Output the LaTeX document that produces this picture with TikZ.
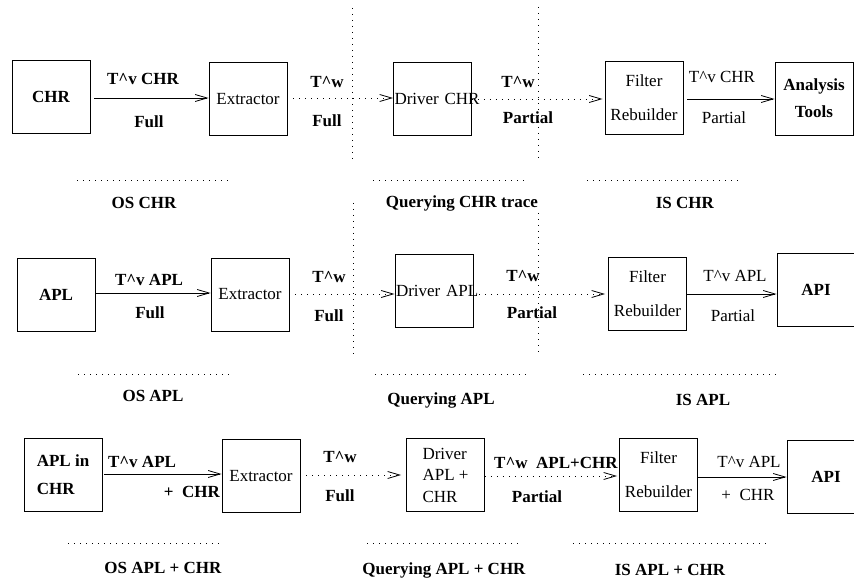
\documentclass[tikz,border=0pt]{standalone}
\usepackage{fontspec}
\setmainfont{Liberation Serif}
\usetikzlibrary{arrows.meta, positioning}
\newcommand{\up}{\textasciicircum}
\tikzset{
  box/.style={draw, line width=0.9pt, minimum width=78pt, minimum height=73pt, inner sep=1pt},
  drvbox/.style={box, text width=76pt, align=left},
  lbl/.style={inner sep=0pt},
  solidarr/.style={-{Straight Barb[length=12pt,width=7pt]}, line width=0.8pt},
  dotarr/.style={solidarr, dash pattern=on 1pt off 5pt},
  sepline/.style={line width=0.8pt, dash pattern=on 1pt off 5pt}
}

\begin{document}
\begin{tikzpicture}[x=1pt, y=-1pt, font=\fontsize{17}{20}\selectfont]
            \useasboundingbox (0,0) rectangle (854,580);

            \node[box] (chr) at (51,97) {\textbf{CHR}};
            \node[box] (ext1) at (248,99) {Extractor};
            \node[drvbox] (drv1) at (432.5,99) {\mbox{Driver CHR}};
            \node[box, align=center] (fil1) at (644,98) {Filter\\[14pt]Rebuilder};
            \node[box, align=center] (tools) at (814,98.5) {\textbf{Analysis}\\[7pt]\textbf{Tools}};

            \draw[solidarr, shorten <=4pt] (chr.east |- 0,98) -- (ext1.west |- 0,98);
            \draw[dotarr] (ext1.east |- 0,98) -- (drv1.west |- 0,98);
            \draw[dotarr] (drv1.east |- 0,99) -- ([xshift=-2pt]fil1.west |- 0,99);
            \draw[solidarr, shorten <=4pt] (fil1.east |- 0,99) -- (tools.west |- 0,99);

            \node[lbl] (l1a) at (143,79) {\textbf{T\up v CHR}};
            \node[lbl] (l1b) at (149,122) {\textbf{Full}};
            \node[lbl] (l1c) at (327,82) {\textbf{T\up w}};
            \node[lbl] (l1d) at (327,121) {\textbf{Full}};
            \node[lbl] (l1e) at (518,82) {\textbf{T\up w}};
            \node[lbl] (l1f) at (528,118) {\textbf{Partial}};
            \node[lbl] (l1g) at (722,77) {T\up v CHR};
            \node[lbl] (l1h) at (724,118) {Partial};

            \draw[sepline] (77,180) -- (230,180);
            \draw[sepline] (373,180) -- (527,180);
            \draw[sepline] (587,180) -- (738,180);
            \node[lbl] (os1) at (144,203) {\textbf{OS CHR}};
            \node[lbl] (qu1) at (462,203) {\textbf{Querying CHR trace}};
            \node[lbl] (is1) at (685,203) {\textbf{IS CHR}};

            \draw[sepline] (352,8) -- (352,162);
            \draw[sepline] (353,203) -- (353,357);
            \draw[sepline] (538,7) -- (538,160);
            \draw[sepline] (538,213) -- (538,355);

            \node[box] (apl) at (56,294.5) {\textbf{APL}};
            \node[box] (ext2) at (250,294.5) {Extractor};
            \node[drvbox] (drv2) at (434,291) {\mbox{Driver APL}};
            \node[box, align=center] (fil2) at (647.5,293.5) {Filter\\[14pt]Rebuilder};
            \node[box] (api2) at (816,289.5) {\textbf{API}};

            \draw[solidarr, shorten <=1pt] (apl.east |- 0,293) -- (ext2.west |- 0,293);
            \draw[dotarr] (ext2.east |- 0,294) -- (drv2.west |- 0,294);
            \draw[dotarr] (drv2.east |- 0,294) -- ([xshift=-3pt]fil2.west |- 0,294);
            \draw[solidarr] (fil2.east |- 0,294) -- (api2.west |- 0,294);

            \node[lbl] (l2a) at (149,280) {\textbf{T\up v APL}};
            \node[lbl] (l2b) at (150,313) {\textbf{Full}};
            \node[lbl] (l2c) at (329,277) {\textbf{T\up w}};
            \node[lbl] (l2d) at (329,316) {\textbf{Full}};
            \node[lbl] (l2e) at (523,276) {\textbf{T\up w}};
            \node[lbl] (l2f) at (532,313) {\textbf{Partial}};
            \node[lbl] (l2g) at (735,276) {T\up v APL};
            \node[lbl] (l2h) at (733,316) {Partial};

            \draw[sepline] (78,374) -- (232,374);
            \draw[sepline] (375,374) -- (528,374);
            \draw[sepline] (583,374) -- (778,374);
            \node[lbl] (os2) at (153,396) {\textbf{OS APL}};
            \node[lbl] (qu2) at (441,400) {\textbf{Querying APL}};
            \node[lbl] (is2) at (703,400) {\textbf{IS APL}};

            \node[box, align=left] (aplchr) at (63,475) {\textbf{APL in}\\[8pt]\textbf{CHR}};
            \node[box] (ext3) at (261,476) {Extractor};
            \node[box, align=left] (drv3) at (445.5,475) {Driver\\[1pt]APL +\\[2pt]CHR};
            \node[box, align=center] (fil3) at (658.5,475) {Filter\\[14pt]Rebuilder};
            \node[box] (api3) at (826,476.5) {\textbf{API}};

            \draw[solidarr, shorten <=2pt] (aplchr.east |- 0,474) -- (ext3.west |- 0,474);
            \draw[dotarr] (ext3.east |- 0,475) -- ([xshift=-5pt]drv3.west |- 0,475);
            \draw[dotarr] (drv3.east |- 0,476) -- ([xshift=-2pt]fil3.west |- 0,476);
            \draw[solidarr] (fil3.east |- 0,477) -- (api3.west |- 0,477);

            \node[lbl] (l3a) at (142,462) {\textbf{T\up v APL}};
            \node[lbl] (l3b) at (192,492) {\textbf{+\ \ CHR}};
            \node[lbl] (l3c) at (340,457) {\textbf{T\up w}};
            \node[lbl] (l3d) at (340,496) {\textbf{Full}};
            \node[lbl] (l3e) at (556,463) {\textbf{T\up w\ \ APL+CHR}};
            \node[lbl] (l3f) at (537,497) {\textbf{Partial}};
            \node[lbl] (l3g) at (749,462) {T\up v APL};
            \node[lbl] (l3h) at (748,495) {+\ \ CHR};

            \draw[sepline] (68,543) -- (223,543);
            \draw[sepline] (367,543) -- (520,543);
            \draw[sepline] (573,543) -- (770,543);
            \node[lbl] (os3) at (163,568) {\textbf{OS APL + CHR}};
            \node[lbl] (qu3) at (444,570) {\textbf{Querying APL + CHR}};
            \node[lbl] (is3) at (670,570) {\textbf{IS APL + CHR}};
        \end{tikzpicture}
\end{document}
